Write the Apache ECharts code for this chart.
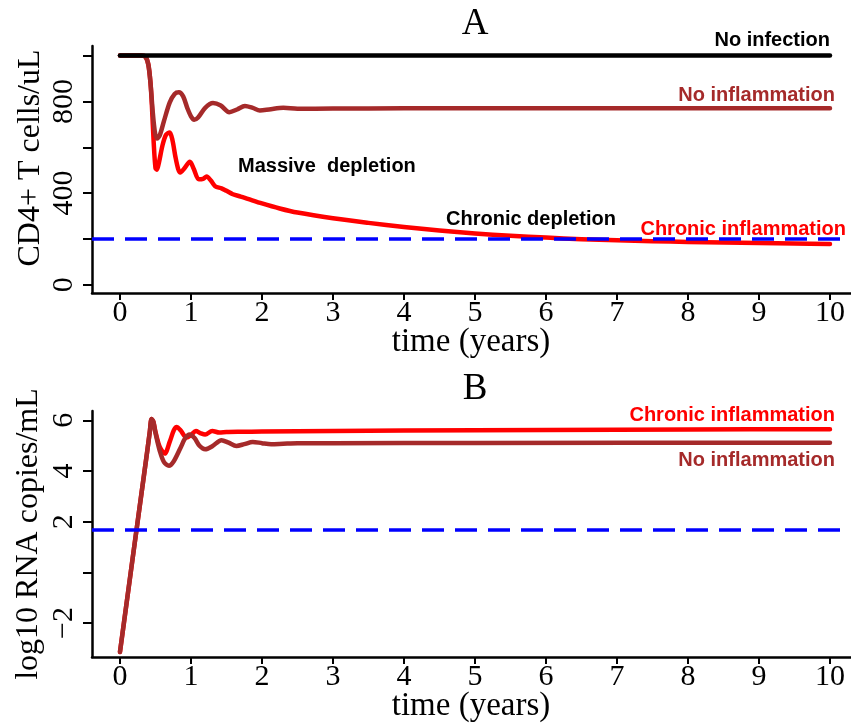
<!DOCTYPE html>
<html><head><meta charset="utf-8">
<script src="https://cdn.jsdelivr.net/npm/echarts@6/dist/echarts.min.js"></script>
<style>html,body{margin:0;padding:0;background:#fff}#c{width:851px;height:728px}</style>
</head><body><div id="c"></div>
<script>
// ---------- DATA ----------
var xTicks = [0,1,2,3,4,5,6,7,8,9,10];
var cd4Ticks = [0,200,400,600,800,1000];
var cd4TickLabels = [0,400,800];
var rnaTicks = [-2,0,2,4,6];
var rnaTickLabels = [-2,2,4,6];
var cd4Threshold = 200;
var rnaThreshold = 1.7;

// Panel A: CD4+ T cells/uL
var cd4NoInfectionT = [0,10];
var cd4NoInfection  = [1000,1000];

var cd4NoInflT = [0,0.3,0.36,0.40,0.43,0.46,0.49,0.52,0.56,0.62,0.70,0.77,0.83,0.89,0.95,1.0,1.045,1.1,1.2,1.31,1.42,1.54,1.65,1.76,1.87,1.97,2.1,2.3,2.5,3,4,6,8,10];
var cd4NoInfl  = [1000,1000,995,960,880,760,670,638,652,715,795,833,840,822,770,735,720,730,772,793,782,753,765,780,772,761,765,772,768,769,770,770,770,770];

var cd4ChronicT = [0,0.3,0.36,0.40,0.43,0.45,0.475,0.5,0.52,0.55,0.60,0.65,0.70,0.74,0.78,0.82,0.85,0.90,0.985,1.04,1.11,1.17,1.22,1.28,1.34,1.43,1.5,1.59,1.7,1.8,2.0,2.25,2.5,3.0,3.5,4.0,4.5,5.0,5.5,6.0,6.5,7.0,7.5,8.0,8.5,9.0,9.5,10];
var cd4Chronic  = [1000,1000,995,960,880,780,620,510,502,535,610,655,665,630,560,505,490,505,537,505,460,462,472,455,430,421,410,395,385,375,355,333,315,290,270,252,237,224,214,206,199,194,190,187,184,182,180,178];

// Panel B: log10 RNA copies/mL
var rnaChronicT = [0,0.1,0.2,0.3,0.38,0.42,0.445,0.47,0.5,0.56,0.63,0.7,0.76,0.80,0.85,0.94,1.0,1.07,1.13,1.2,1.3,1.4,1.5,1.7,2,3,4,6,8,10];
var rnaChronic  = [-3.14,-1.07,1.0,3.06,4.7,5.55,6.05,5.95,5.55,4.95,4.69,5.15,5.62,5.74,5.62,5.32,5.42,5.58,5.5,5.44,5.58,5.52,5.54,5.55,5.56,5.58,5.6,5.62,5.64,5.65];

var rnaNoInflT = [0,0.1,0.2,0.3,0.38,0.42,0.445,0.47,0.5,0.56,0.62,0.69,0.76,0.85,0.92,0.98,1.05,1.12,1.2,1.3,1.43,1.53,1.64,1.75,1.87,2.0,2.13,2.3,2.5,3,5,10];
var rnaNoInfl  = [-3.14,-1.07,1.0,3.06,4.7,5.55,6.05,5.95,5.5,4.8,4.35,4.21,4.4,4.9,5.3,5.44,5.3,5.0,4.86,4.98,5.22,5.12,4.99,5.06,5.15,5.1,5.06,5.08,5.1,5.1,5.11,5.12];

// ---------- CHART ----------
function zip(t, v){ return t.map(function(x,i){ return [x, v[i]]; }); }
var SERIF = 'Liberation Serif';
var SANS = 'Liberation Sans';
var BROWN = '#A52A2A', RED = '#FF0000', BLUE = '#0000FF';

function xAxisCfg(g){
  return {
    gridIndex: g, type: 'value', min: -0.394, max: 10.296,
    axisLine: {show: true, onZero: false, lineStyle: {color: '#000', width: 2.5}},
    axisTick: {show: true, length: 7, customValues: xTicks, lineStyle: {color: '#000', width: 2}},
    axisLabel: {show: true, customValues: xTicks, margin: 5, fontFamily: SERIF, fontSize: 30, color: '#000'},
    splitLine: {show: false}
  };
}
function yAxisCfg(g, min, max, ticks, labels){
  return {
    gridIndex: g, type: 'value', min: min, max: max,
    axisLine: {show: true, onZero: false, lineStyle: {color: '#000', width: 2.5}},
    axisTick: {show: true, length: 9, customValues: ticks, lineStyle: {color: '#000', width: 2}},
    axisLabel: {show: true, customValues: labels, rotate: 90, margin: 13, fontFamily: SERIF, fontSize: 30, color: '#000',
      formatter: function(v){ return String(v).replace('-', '\u2212'); }},
    splitLine: {show: false}
  };
}
function lineSeries(name, g, data, color, w){
  return {
    name: name, type: 'line', xAxisIndex: g, yAxisIndex: g, data: data,
    showSymbol: false, symbol: 'none', smooth: 0.3,
    lineStyle: {color: color, width: w, cap: 'round', join: 'round'},
    animation: false
  };
}
function thresholdSeries(g, val){
  return {
    type: 'line', xAxisIndex: g, yAxisIndex: g, data: [], animation: false,
    markLine: {
      silent: true, symbol: ['none','none'], animation: false,
      label: {show: false},
      lineStyle: {color: BLUE, width: 3.5, type: [22, 11]},
      data: [{yAxis: val}]
    }
  };
}
function txt(x, y, text, opts){
  opts = opts || {};
  return {
    type: 'text', x: x, y: y, rotation: opts.rotation || 0, z: 100,
    style: {
      text: text, fill: opts.color || '#000',
      fontFamily: opts.font || SANS, fontSize: opts.size || 20, fontWeight: opts.weight || 'bold',
      align: opts.align || 'left', textAlign: opts.align || 'left',
      verticalAlign: 'middle', textVerticalAlign: 'middle'
    }
  };
}

var chart = echarts.init(document.getElementById('c'), null, {renderer: 'canvas'});
chart.setOption({
  backgroundColor: '#fff',
  animation: false,
  grid: [
    {left: 92, top: 46, width: 759, height: 247, outerBoundsMode: 'none', containLabel: false},
    {left: 92, top: 411, width: 759, height: 246, outerBoundsMode: 'none', containLabel: false}
  ],
  xAxis: [xAxisCfg(0), xAxisCfg(1)],
  yAxis: [
    yAxisCfg(0, -36, 1042, cd4Ticks, cd4TickLabels),
    yAxisCfg(1, -3.34, 6.37, rnaTicks, rnaTickLabels)
  ],
  series: [
    lineSeries('Chronic inflammation', 0, zip(cd4ChronicT, cd4Chronic), RED, 4.5),
    lineSeries('No inflammation', 0, zip(cd4NoInflT, cd4NoInfl), BROWN, 4.5),
    lineSeries('No infection', 0, zip(cd4NoInfectionT, cd4NoInfection), '#000', 4.5),
    thresholdSeries(0, cd4Threshold),
    lineSeries('Chronic inflammation', 1, zip(rnaChronicT, rnaChronic), RED, 4.5),
    lineSeries('No inflammation', 1, zip(rnaNoInflT, rnaNoInfl), BROWN, 4.5),
    thresholdSeries(1, rnaThreshold)
  ],
  graphic: [
    txt(475, 24, 'A', {font: SERIF, size: 37, weight: 'normal', align: 'center'}),
    txt(475, 389, 'B', {font: SERIF, size: 37, weight: 'normal', align: 'center'}),
    txt(471, 342, 'time (years)', {font: SERIF, size: 33, weight: 'normal', align: 'center'}),
    txt(471, 706, 'time (years)', {font: SERIF, size: 33, weight: 'normal', align: 'center'}),
    txt(31, 158, 'CD4+ T cells/uL', {font: SERIF, size: 32, weight: 'normal', align: 'center', rotation: Math.PI/2}),
    txt(29, 534, 'log10 RNA copies/mL', {font: SERIF, size: 32, weight: 'normal', align: 'center', rotation: Math.PI/2}),
    txt(830, 40, 'No infection', {align: 'right'}),
    txt(835, 95, 'No inflammation', {align: 'right', color: BROWN}),
    txt(238, 166, 'Massive  depletion', {align: 'left'}),
    txt(446, 219, 'Chronic depletion', {align: 'left'}),
    txt(846, 229.5, 'Chronic inflammation', {align: 'right', color: RED}),
    txt(835, 415, 'Chronic inflammation', {align: 'right', color: RED}),
    txt(835, 460.5, 'No inflammation', {align: 'right', color: BROWN})
  ]
});
</script></body></html>
